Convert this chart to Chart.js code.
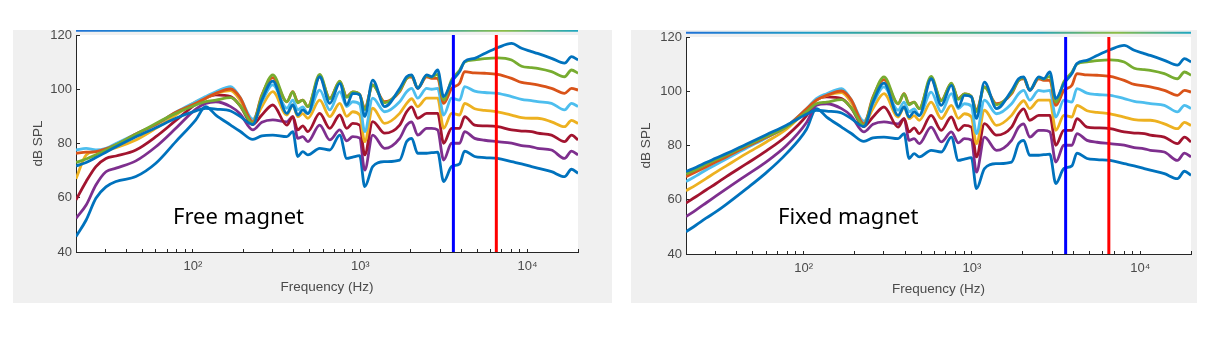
<!DOCTYPE html>
<html>
<head>
<meta charset="utf-8">
<script src="https://cdn.jsdelivr.net/npm/chart.js@4.4.1/dist/chart.umd.min.js"></script>
<style>
  body { margin: 0; background: #fff; width: 1217px; height: 343px; position: relative; overflow: hidden; }
  .panel { position: absolute; top: 30px; }
  #panelFree { left: 13px; }
  #panelFixed { left: 631px; }
  .note { position: absolute; font-family: "Noto Sans", sans-serif; font-size: 22px; line-height: 22px; color: #000; white-space: nowrap; }
</style>
</head>
<body>
<div class="panel" id="panelFree"><canvas id="chartFree" width="599" height="273"></canvas></div>
<div class="panel" id="panelFixed"><canvas id="chartFixed" width="566" height="273"></canvas></div>
<div class="note" style="left:173px; top:204px;">Free magnet</div>
<div class="note" style="left:778px; top:204px;">Fixed magnet</div>
<script>
//-------------------------------------------------------------------
// data
//-------------------------------------------------------------------
const freqLowHz = [20, 23, 26.3, 30.2, 34.7, 45.6, 60, 79, 104];
const freqHighHz = [119, 137, 168, 191, 228, 258, 300, 364, 395, 423, 453, 486, 572, 657, 754, 830, 901, 992,
  1063, 1186, 1399, 1719, 1893, 2028, 2202, 2492, 2670, 2899, 3148, 3514, 3922, 4202, 4822, 5533, 6613,
  8017, 9198, 10555, 11462, 13894, 16613, 18292, 20000];

// plot order: first is drawn underneath
const seriesNames = ['curve 1', 'curve 2', 'curve 3', 'curve 4', 'curve 5', 'curve 6', 'curve 7', 'curve 8'];
const seriesColors = ['#0072BD', '#7E2F8E', '#A2142F', '#EDB120', '#4DBEEE', '#D95319', '#77AC30', '#0072BD'];

// below ~110 Hz the two panels differ
const freeLowDb = [
  [45.7, 51.8, 59.8, 64, 66, 67.8, 72.7, 80.7, 88.7],
  [52.4, 57.3, 64.7, 69.6, 70.9, 73.6, 78.8, 85.6, 92.7],
  [59.2, 66, 71.5, 74.5, 75.4, 77.6, 82.5, 88.5, 94.5],
  [67, 75.8, 77, 77.6, 78.5, 81.3, 85.6, 90.5, 95.4],
  [77.6, 78.2, 77.6, 78.2, 80, 83.5, 87, 91.5, 95.4],
  [76.4, 76.8, 77, 78, 79.5, 83.5, 87, 91.5, 94.8],
  [73, 74.3, 75.8, 77.6, 79.5, 83.4, 87.4, 91.1, 94.2],
  [71.7, 73, 74.8, 76.8, 78.8, 82.5, 85.8, 89.3, 92]
];
const fixedLowDb = [
  [48.2, 50.7, 53.2, 55.6, 58.3, 64, 70, 77, 86],
  [53.8, 56.3, 58.8, 61.4, 64, 69, 74, 80, 88.5],
  [58.8, 61.2, 63.6, 66, 68.5, 73.2, 78, 83.5, 91],
  [63.3, 65.5, 67.8, 70.2, 72.5, 77, 81.3, 86, 93],
  [66.7, 68.8, 71, 73, 75, 79, 82.8, 87, 93.5],
  [68.5, 70.3, 72.1, 74, 75.8, 79.5, 83, 87, 93.5],
  [69.5, 71.2, 73, 74.8, 76.5, 80, 83.3, 86.8, 92.5],
  [70.4, 72, 73.7, 75.4, 77, 80.5, 84, 87.5, 91.5]
];
// above ~110 Hz both panels show the same curves
const sharedHighDb = [
  [93.6, 90.5, 86.8, 84.5, 81.5, 82.8, 83.1, 82.5, 84.4, 75.2, 77, 75.8, 78.2, 77.6, 83.1, 74.5, 75, 75.5, 64.1, 71.5,
   73.3, 73.9, 80.7, 81.9, 76.4, 76.4, 76.6, 76.8, 66, 71.5, 72.5, 77.2, 75.2, 74.8, 74.5, 73.3, 72.5, 71.5, 70.9, 69.6,
   67.8, 70.5, 69],
  [94.8, 95.4, 93.6, 91, 85, 87.8, 88.7, 88, 89.9, 81.9, 82.5, 80.7, 86.8, 81.3, 85, 81, 82.5, 82, 70.2, 83.1,
   78.2, 81.9, 86.8, 88, 83.1, 85.6, 85.6, 85, 73.9, 80.1, 80.1, 84.4, 81.9, 81.2, 80.7, 80.1, 79.2, 78.8, 78.2, 77.6,
   74.5, 77.2, 75.8],
  [96.7, 97.9, 97.3, 94, 87, 90.5, 94.2, 86.8, 89.9, 85, 86.5, 84.4, 91.1, 85.6, 90.5, 85.6, 87.4, 86.8, 75.8, 88.1,
   83.8, 86.8, 91.7, 93.5, 89.3, 91.1, 91.1, 91.1, 80.1, 85.6, 85.6, 89.9, 86.8, 86.5, 86.2, 85, 84.6, 84.4, 83.8, 83.1,
   80.7, 83.1, 81.3],
  [96.7, 98.5, 99.5, 96, 88, 93.6, 99.1, 90.5, 94.2, 89.9, 91, 89.3, 96, 89.9, 94.8, 90, 91.7, 90.5, 80.7, 93,
   87.4, 91.1, 94.8, 96.5, 93.6, 96.7, 96.7, 96.7, 85.6, 91.1, 90.5, 94.8, 92.8, 92.2, 91.7, 90.5, 89.5, 89.3, 89.3, 88,
   86.2, 88.5, 87.4],
  [97.3, 99.1, 101, 97, 89, 95.4, 101.6, 93, 96, 92.4, 93.5, 91.1, 99.7, 92.4, 99.1, 93.6, 95.4, 94.5, 84.4, 96.7,
   91.7, 95.4, 99.1, 100.3, 96.7, 100.3, 100, 100.3, 90.5, 96.7, 96, 101, 99.3, 98.8, 98.5, 97.3, 96.3, 95.8, 95.4, 94.8,
   92.4, 94.8, 93.6],
  [96.7, 98.5, 100.1, 97, 88, 97.9, 104.3, 95.4, 99.1, 95.4, 96, 93.6, 104.6, 96.7, 102.8, 97.3, 99, 98, 93, 101.6,
   95.4, 99.1, 104, 104.6, 100.3, 104.6, 104, 104, 94.8, 100.3, 102.2, 106.5, 106, 105.9, 105.5, 104, 102.5, 102, 101.6, 100.3,
   98.5, 100.3, 99.7],
  [95.4, 96, 96.9, 94, 87.5, 97.5, 105.3, 95.4, 99, 95, 96, 93.6, 105.5, 96.5, 103, 97, 99, 98, 92.5, 101.5,
   95, 99.5, 104, 105, 100.5, 105, 104.5, 105.5, 96, 103.5, 107, 110, 110.8, 111.3, 111.6, 110.8, 108.5, 108, 107.7, 106.5,
   104.6, 107.1, 105.9],
  [93, 92.7, 92, 90, 87, 96, 103, 91.1, 94.2, 90.5, 92.4, 91, 104.6, 94.8, 102.2, 94.2, 98.5, 98, 90, 103.4,
   93.6, 100.3, 104.6, 105.3, 100.3, 105.3, 104.6, 107.1, 97.3, 102.8, 106.5, 110.2, 111.4, 113.2, 115.3, 116.9, 115.1, 113.9, 113.2, 111.4,
   109.6, 112, 110.8]
];

const markerFreqHz = [3600, 6500];
const markerColors = ['#0000FF', '#FF0000'];
const edgeLineDb = 121.6;

const xTickValues = [20, 30, 40, 50, 60, 70, 80, 90, 100, 200, 300, 400, 500, 600, 700, 800, 900,
  1000, 2000, 3000, 4000, 5000, 6000, 7000, 8000, 9000, 10000, 20000];
const xTickLabels = { 100: '10\u00B2', 1000: '10\u00B3', 10000: '10\u2074' };
const yTickValues = [40, 60, 80, 100, 120];

//-------------------------------------------------------------------
// chart building
//-------------------------------------------------------------------
const tickFont = { family: '"Liberation Sans", Arial, sans-serif', size: 13 };
const titleFont = { family: '"Liberation Sans", Arial, sans-serif', size: 13.5 };
const textColor = '#4a4a4a';

const panelBackground = {
  id: 'panelBackground',
  beforeDraw(chart) {
    const ctx = chart.ctx;
    const area = chart.chartArea;
    ctx.save();
    ctx.fillStyle = '#f0f0f0';
    ctx.fillRect(0, 0, chart.width, chart.height);
    ctx.fillStyle = '#ffffff';
    ctx.fillRect(area.left, area.top, area.right - area.left, area.bottom - area.top);
    ctx.restore();
  }
};

function edgeGradient(context) {
  const chart = context.chart;
  const area = chart.chartArea;
  if (!area) return '#21a0b8';
  let g = chart.ctx.createLinearGradient(area.left, 0, area.right, 0);
  g.addColorStop(0, '#1f72d6');
  g.addColorStop(0.25, '#1f9ec4');
  g.addColorStop(0.5, '#4fae6a');
  g.addColorStop(0.7, '#2aa4b4');
  g.addColorStop(0.85, '#8cbc45');
  g.addColorStop(1, '#1ea6c2');
  return g;
}

function buildDatasets(lowDb) {
  let datasets = [];
  let allFreq = freqLowHz.concat(freqHighHz);

  for (let m = 0; m < markerFreqHz.length; m++) {
    datasets.push({
      label: 'marker ' + (m + 1),
      data: [{ x: markerFreqHz[m], y: yTickValues[0] }, { x: markerFreqHz[m], y: yTickValues[yTickValues.length - 1] }],
      borderColor: markerColors[m],
      borderWidth: 3,
      pointRadius: 0,
      order: 0
    });
  }

  for (let i = 0; i < seriesNames.length; i++) {
    let values = lowDb[i].concat(sharedHighDb[i]);
    datasets.push({
      label: seriesNames[i],
      data: allFreq.map((f, k) => ({ x: f, y: values[k] })),
      borderColor: seriesColors[i],
      borderWidth: 2.8,
      pointRadius: 0,
      cubicInterpolationMode: 'monotone',
      order: 20 - i
    });
  }

  datasets.push({
    label: 'edge',
    data: [{ x: 20, y: edgeLineDb }, { x: 20000, y: edgeLineDb }],
    borderColor: edgeGradient,
    borderWidth: 2,
    pointRadius: 0,
    clip: false,
    order: 30
  });

  return datasets;
}

function makeChart(canvasId, lowDb, box) {
  const ctx = document.getElementById(canvasId).getContext('2d');

  return new Chart(ctx, {
    type: 'line',
    data: { datasets: buildDatasets(lowDb) },
    plugins: [panelBackground],
    options: {
      responsive: false,
      animation: false,
      devicePixelRatio: 1,
      layout: { padding: { left: 0, right: box.right, top: box.top, bottom: 0 } },
      plugins: { legend: { display: false }, tooltip: { enabled: false } },
      scales: {
        x: {
          type: 'logarithmic',
          min: 20,
          max: 20000,
          afterBuildTicks: (scale) => { scale.ticks = xTickValues.map(v => ({ value: v })); },
          afterFit: (scale) => {
            scale.height = box.bottom;
            scale.paddingLeft = 0;
            scale.paddingRight = 0;
          },
          grid: { drawOnChartArea: false, drawTicks: true, tickLength: -3, color: '#262626', tickWidth: 1 },
          border: { display: true, color: '#262626', width: 1 },
          ticks: {
            autoSkip: false,
            maxRotation: 0,
            padding: 10,
            color: textColor,
            font: tickFont,
            callback: (val) => xTickLabels[val] || ''
          },
          title: { display: true, text: 'Frequency (Hz)', color: textColor, font: titleFont, padding: { top: 0, bottom: box.xTitlePad } }
        },
        y: {
          min: 40,
          max: 120,
          afterBuildTicks: (scale) => { scale.ticks = yTickValues.map(v => ({ value: v })); },
          afterFit: (scale) => {
            scale.width = box.left;
            scale.paddingTop = 0;
            scale.paddingBottom = 0;
          },
          grid: { drawOnChartArea: false, drawTicks: true, tickLength: -4, color: '#262626' },
          border: { display: true, color: '#262626', width: 1 },
          ticks: { padding: 8, color: textColor, font: tickFont },
          title: { display: true, text: 'dB SPL', color: textColor, font: titleFont, padding: { top: box.yTitlePad, bottom: 0 } }
        }
      }
    }
  });
}

makeChart('chartFree', freeLowDb, { left: 63, right: 34, top: 5, bottom: 51, xTitlePad: 8, yTitlePad: 17 });
makeChart('chartFixed', fixedLowDb, { left: 55, right: 6, top: 7, bottom: 49, xTitlePad: 6, yTitlePad: 7 });
</script>
</body>
</html>
